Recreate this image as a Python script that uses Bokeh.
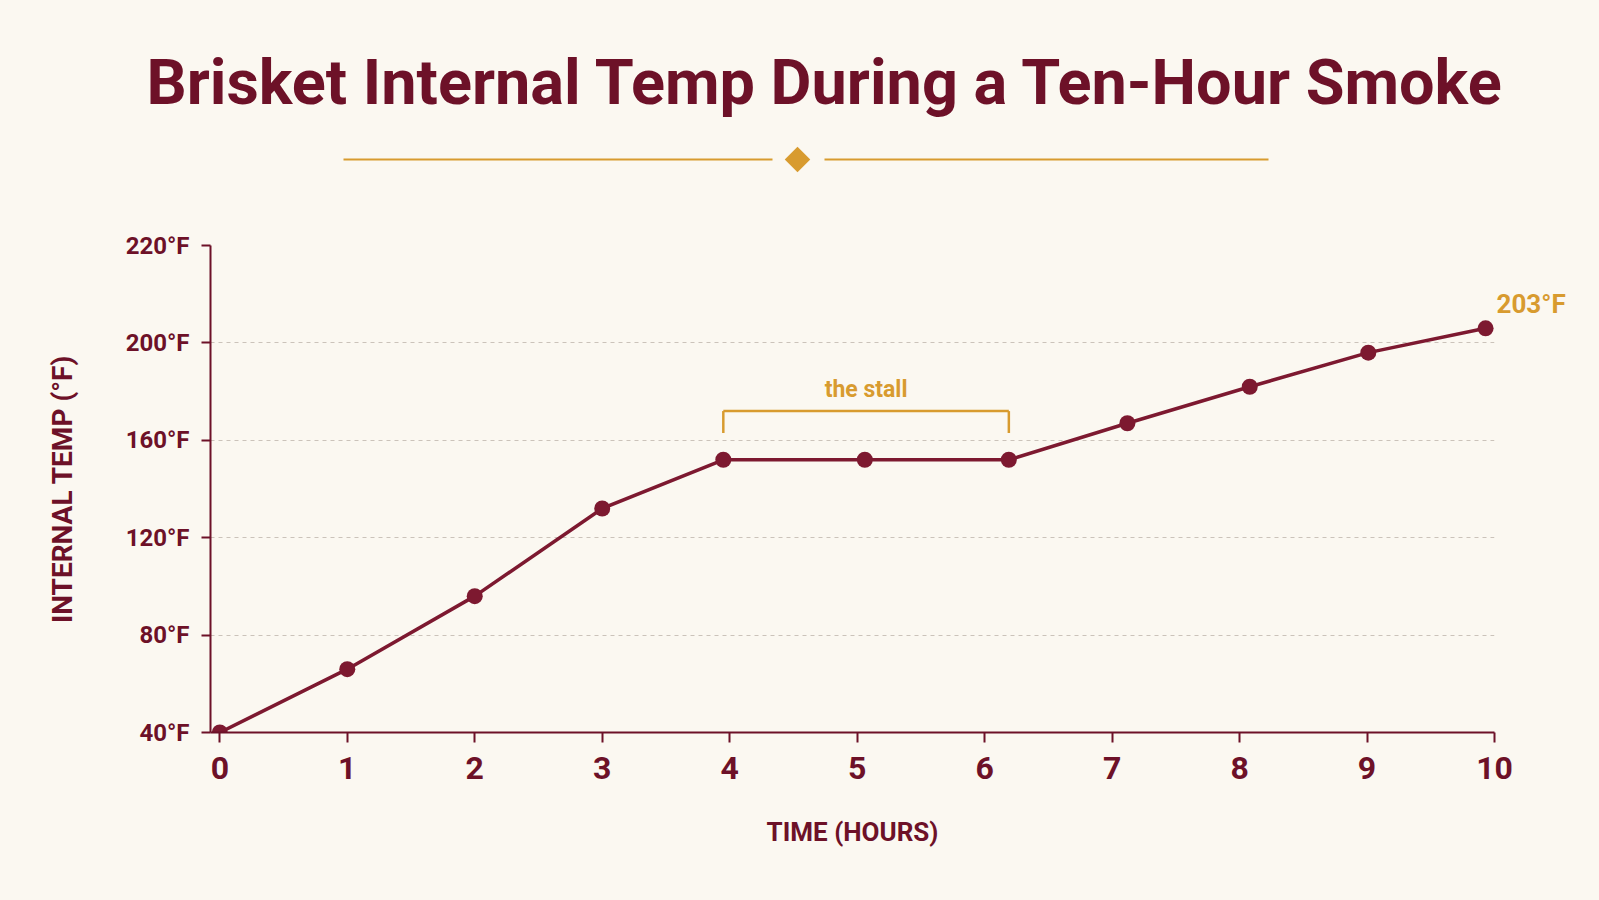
import numpy as np
from bokeh.plotting import figure
from bokeh.models import (ColumnDataSource, LinearInterpolator, FixedTicker,
                          Range1d, LinearAxis)
from bokeh.transform import transform
from bokeh.layouts import column
from bokeh.embed import file_html
from bokeh.resources import INLINE
from bokeh.core.properties import value

# ---------------- data ----------------
hours = [0, 1, 2, 3, 3.95, 5.06, 6.19, 7.12, 8.08, 9.01, 9.93]
temps = [40, 66, 96, 132, 152, 152, 152, 167, 182, 196, 203]
x_ticks = list(range(0, 11))
y_tick_temps = [40, 80, 120, 160, 200, 220]
y_tick_labels = ["40°F", "80°F", "120°F", "160°F", "200°F", "220°F"]
title_text = "Brisket Internal Temp During a Ten-Hour Smoke"
x_label = "TIME (HOURS)"
y_label = "INTERNAL TEMP (°F)"
stall_label = "the stall"
stall_idx = (4, 6)                # first / last point of the stall
stall_bracket_temps = (172, 163)  # bracket bar / tick ends
stall_label_temp = 181
end_label_temp = 208              # where the final-reading label sits

# ---------------- style ----------------
BG = "#fbf8f1"
MAROON = "#6d1128"
LINE = "#7d1930"
GOLD = "#d89b2f"
GRID = "#cbc3ba"
FONT = "Roboto"

W = 1599
H_HEAD = 200
LEFT, RIGHT = 210, 105
X_START = -0.073

y_tick_pos = list(range(len(y_tick_temps)))
interp = LinearInterpolator(x=y_tick_temps, y=y_tick_pos, clip=False)

# ---------------- header (title + ornament) ----------------
h = figure(width=W, height=H_HEAD, x_range=Range1d(LEFT, W - RIGHT),
           y_range=Range1d(H_HEAD, 130), output_backend="svg", toolbar_location=None,
           x_axis_location=None, y_axis_location=None,
           min_border_left=LEFT, min_border_right=RIGHT, min_border_top=130,
           min_border_bottom=0, title=title_text)
h.grid.visible = False
h.outline_line_color = None
h.background_fill_color = BG
h.border_fill_color = BG
h.title.text_font = FONT
h.title.text_font_style = "bold"
h.title.text_font_size = "63px"
h.title.text_color = MAROON
h.title.align = "left"
h.title.offset = 146 - LEFT
h.title.standoff = 24
h.segment(x0=[343, 824], y0=[159, 159], x1=[772, 1268], y1=[159, 159],
          line_color=GOLD, line_width=2)
h.scatter(x=[797], y=[159], marker="square", angle=np.pi / 4, size=18,
          fill_color=GOLD, line_color=None)

# ---------------- main chart ----------------
src = ColumnDataSource(dict(hours=hours, temps=temps))

p = figure(width=W, height=900 - H_HEAD, x_range=Range1d(X_START, x_ticks[-1]),
           y_range=Range1d(0, len(y_tick_temps) - 1),
           output_backend="svg", toolbar_location=None,
           min_border_left=LEFT, min_border_right=RIGHT, min_border_top=45,
           min_border_bottom=168)
p.background_fill_color = BG
p.border_fill_color = BG
p.outline_line_color = None

p.xgrid.visible = False
p.ygrid.ticker = FixedTicker(ticks=y_tick_pos[1:])
p.ygrid.grid_line_color = GRID
p.ygrid.grid_line_dash = "4 4"
p.ygrid.grid_line_width = 1

for ax in (p.xaxis, p.yaxis):
    ax.axis_line_color = MAROON
    ax.axis_line_width = 2
    ax.major_tick_line_color = MAROON
    ax.major_tick_line_width = 2
    ax.major_tick_in = 0
    ax.minor_tick_line_color = None
    ax.major_label_text_color = MAROON
    ax.major_label_text_font = FONT
    ax.major_label_text_font_style = "bold"
    ax.axis_label_text_color = MAROON
    ax.axis_label_text_font = FONT
    ax.axis_label_text_font_style = "bold"

p.xaxis.ticker = FixedTicker(ticks=x_ticks)
p.xaxis.major_tick_out = 10
p.xaxis.major_label_standoff = 14
p.xaxis.major_label_text_font_size = "32px"
p.xaxis.axis_label = x_label
p.xaxis.axis_label_text_font_size = "26px"
p.xaxis.axis_label_standoff = 35

p.yaxis.ticker = FixedTicker(ticks=y_tick_pos)
p.yaxis.major_label_overrides = {i: l for i, l in zip(y_tick_pos, y_tick_labels)}
p.yaxis.major_tick_out = 9
p.yaxis.major_label_standoff = 12
p.yaxis.major_label_text_font_size = "24px"
p.yaxis.axis_label = y_label
p.yaxis.axis_label_text_font_size = "28px"
p.yaxis.axis_label_standoff = 44

# final reading, labelled just outside the right edge of the plot
end_pos = float(np.interp(end_label_temp, y_tick_temps, y_tick_pos))
end_axis = LinearAxis(ticker=FixedTicker(ticks=[end_pos]),
                      major_label_overrides={end_pos: f"{temps[-1]}°F"},
                      axis_line_color=None, major_tick_line_color=None,
                      minor_tick_line_color=None, major_tick_out=0, major_tick_in=0,
                      major_label_standoff=2, major_label_text_color=GOLD,
                      major_label_text_font=FONT, major_label_text_font_style="bold",
                      major_label_text_font_size="26px")
p.add_layout(end_axis, "right")

ytr = transform("temps", interp)
p.line(x="hours", y=ytr, source=src, line_color=LINE, line_width=3.5)
p.scatter(x="hours", y=ytr, source=src, size=16, fill_color=LINE, line_color=None)

# stall bracket
s0, s1 = hours[stall_idx[0]], hours[stall_idx[1]]
br = ColumnDataSource(dict(
    x0=[s0, s0, s1], x1=[s1, s0, s1],
    y0=[stall_bracket_temps[0]] * 3,
    y1=[stall_bracket_temps[0], stall_bracket_temps[1], stall_bracket_temps[1]]))
p.segment(x0="x0", x1="x1", y0=transform("y0", interp), y1=transform("y1", interp),
          source=br, line_color=GOLD, line_width=2.5)
p.text(x=[(s0 + s1) / 2], y=[float(np.interp(stall_label_temp, y_tick_temps, y_tick_pos))],
       text=[stall_label], text_font=value(FONT), text_font_style="bold",
       text_font_size="23px", text_color=GOLD, text_align="center",
       text_baseline="middle")

layout = column(h, p, spacing=0)
layout.styles = {"background-color": BG}
open("out.html", "w").write(file_html(layout, INLINE))
